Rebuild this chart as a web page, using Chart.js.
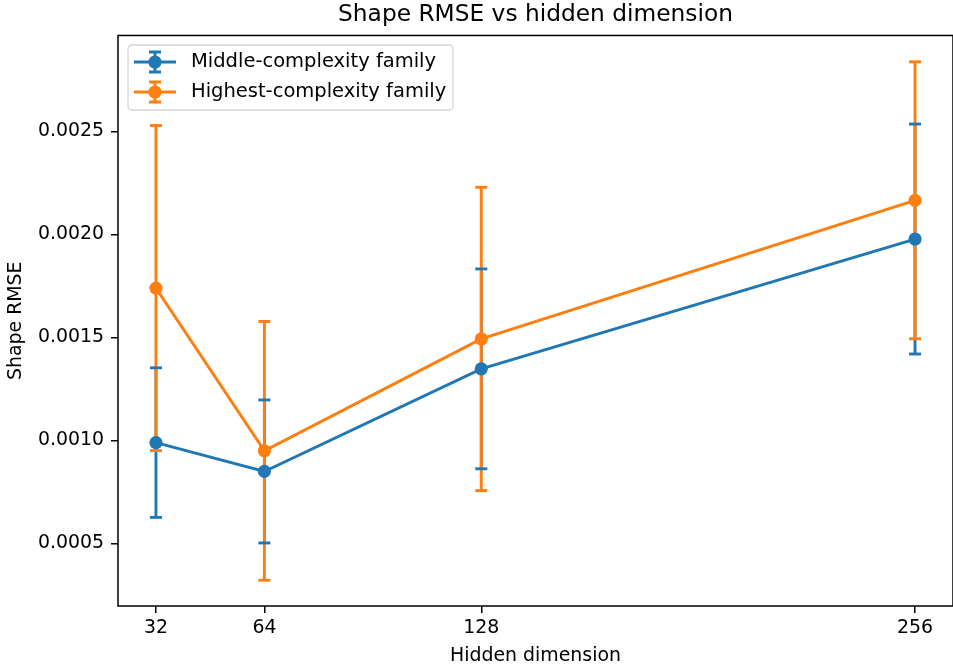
<!DOCTYPE html>
<html>
<head>
<meta charset="utf-8">
<script src="https://cdn.jsdelivr.net/npm/chart.js@4.4.1/dist/chart.umd.min.js"></script>
<style>
html,body{margin:0;padding:0;background:#fff;}
#wrap{width:953px;height:666px;}
</style>
</head>
<body>
<div id="wrap"><canvas id="c" width="953" height="666"></canvas></div>
<script>
const hiddenDims = [32, 64, 128, 256];
const middleMean = [0.00099, 0.00085, 0.001348, 0.001978];
const middleErr = [0.000363, 0.000347, 0.000485, 0.000558];
const highestMean = [0.00174, 0.00095, 0.001493, 0.002166];
const highestErr = [0.000789, 0.000628, 0.000736, 0.000672];
const xTickValues = [32, 64, 128, 256];
const yTickValues = [0.0005, 0.0010, 0.0015, 0.0020, 0.0025];
const seriesNames = ['Middle-complexity family', 'Highest-complexity family'];
const seriesColors = ['#1f77b4', '#ff7f0e'];

const FONT = 'DejaVu Sans';
const LW = 2.9;
const means = [middleMean, highestMean];
const errs = [middleErr, highestErr];

const errorBarPlugin = {
  id: 'errorBars',
  beforeDatasetsDraw(chart) {
    const ctx = chart.ctx;
    const xs = chart.scales.x, ys = chart.scales.y;
    ctx.save();
    means.forEach((m, i) => {
      ctx.strokeStyle = seriesColors[i];
      ctx.lineWidth = LW;
      m.forEach((v, j) => {
        const x = xs.getPixelForValue(hiddenDims[j]);
        ctx.beginPath();
        ctx.moveTo(x, ys.getPixelForValue(v + errs[i][j]));
        ctx.lineTo(x, ys.getPixelForValue(v - errs[i][j]));
        ctx.stroke();
      });
    });
    means.forEach((m, i) => {
      ctx.strokeStyle = seriesColors[i];
      ctx.lineWidth = LW;
      m.forEach((v, j) => {
        const x = xs.getPixelForValue(hiddenDims[j]);
        [v + errs[i][j], v - errs[i][j]].forEach(val => {
          const y = ys.getPixelForValue(val);
          ctx.beginPath();
          ctx.moveTo(x - 6, y);
          ctx.lineTo(x + 6, y);
          ctx.stroke();
        });
      });
    });
    ctx.restore();
  },
  afterDatasetsDraw(chart) {
    const ctx = chart.ctx;
    const a = chart.chartArea;
    ctx.save();
    ctx.strokeStyle = '#000';
    ctx.lineWidth = 1.5;
    ctx.strokeRect(a.left, a.top, a.right - a.left, a.bottom - a.top);
    // legend
    const lx = 128, ly = 45, lw = 325, lh = 65, r = 4;
    ctx.beginPath();
    ctx.moveTo(lx + r, ly);
    ctx.arcTo(lx + lw, ly, lx + lw, ly + lh, r);
    ctx.arcTo(lx + lw, ly + lh, lx, ly + lh, r);
    ctx.arcTo(lx, ly + lh, lx, ly, r);
    ctx.arcTo(lx, ly, lx + lw, ly, r);
    ctx.closePath();
    ctx.fillStyle = 'rgba(255,255,255,0.8)';
    ctx.fill();
    ctx.strokeStyle = '#d5d5d5';
    ctx.lineWidth = 1.3;
    ctx.stroke();
    seriesNames.forEach((name, i) => {
      const y = 62 + i * 30;
      ctx.strokeStyle = seriesColors[i];
      ctx.fillStyle = seriesColors[i];
      ctx.lineWidth = LW;
      ctx.beginPath();
      ctx.moveTo(134, y); ctx.lineTo(176, y);
      ctx.moveTo(155, y - 10); ctx.lineTo(155, y + 10);
      ctx.moveTo(149, y - 10); ctx.lineTo(161, y - 10);
      ctx.moveTo(149, y + 10); ctx.lineTo(161, y + 10);
      ctx.stroke();
      ctx.beginPath();
      ctx.arc(155, y, 6.6, 0, Math.PI * 2);
      ctx.fill();
      ctx.fillStyle = '#000';
      ctx.font = '19.5px "' + FONT + '"';
      ctx.textAlign = 'left';
      ctx.textBaseline = 'middle';
      ctx.fillText(name, 191, y);
    });
    ctx.restore();
  }
};

const datasets = means.map((m, i) => ({
  label: seriesNames[i],
  data: m.map((v, j) => ({x: hiddenDims[j], y: v})),
  borderColor: seriesColors[i],
  backgroundColor: seriesColors[i],
  borderWidth: LW,
  pointRadius: 6.6,
  pointBorderWidth: 0,
  pointBackgroundColor: seriesColors[i],
  tension: 0,
  fill: false,
  clip: false
}));

new Chart(document.getElementById('c'), {
  type: 'line',
  data: { datasets },
  options: {
    responsive: false,
    animation: false,
    events: [],
    layout: { autoPadding: false, padding: { left: 0, right: -1.5, top: 0, bottom: 0 } },
    plugins: {
      legend: { display: false },
      tooltip: { enabled: false },
      title: {
        display: true,
        text: 'Shape RMSE vs hidden dimension',
        fullSize: false,
        color: '#000',
        font: { family: FONT, size: 23.3, weight: 'normal', lineHeight: 1.2 },
        padding: { top: 1, bottom: 6.5 }
      }
    },
    scales: {
      x: {
        type: 'linear',
        min: 20.8,
        max: 267.2,
        afterBuildTicks(scale) { scale.ticks = xTickValues.map(v => ({value: v})); },
        afterFit(scale) { scale.height = 60; scale.paddingLeft = 0; scale.paddingRight = 0; },
        border: { display: false },
        grid: { display: true, drawOnChartArea: false, drawTicks: true, tickLength: 7, color: '#000', lineWidth: 1.5 },
        ticks: { color: '#000', font: { family: FONT, size: 18.9 }, padding: 4, maxRotation: 0, callback: v => String(v) },
        title: { display: true, text: 'Hidden dimension', color: '#000', font: { family: FONT, size: 18.9, lineHeight: 1.0 }, padding: { top: 0, bottom: 0 } }
      },
      y: {
        type: 'linear',
        min: 0.000197,
        max: 0.002966,
        afterBuildTicks(scale) { scale.ticks = yTickValues.map(v => ({value: v})); },
        afterFit(scale) { scale.width = 118; scale.paddingTop = 0; scale.paddingBottom = 0; },
        border: { display: false },
        grid: { display: true, drawOnChartArea: false, drawTicks: true, tickLength: 7, color: '#000', lineWidth: 1.5 },
        ticks: { color: '#000', font: { family: FONT, size: 18.9 }, padding: 7, callback: v => Number(v).toFixed(4) },
        title: { display: true, text: 'Shape RMSE', color: '#000', font: { family: FONT, size: 18.9, lineHeight: 1.2 }, padding: { top: 5, bottom: 0 } }
      }
    }
  },
  plugins: [errorBarPlugin]
});
</script>
</body>
</html>
